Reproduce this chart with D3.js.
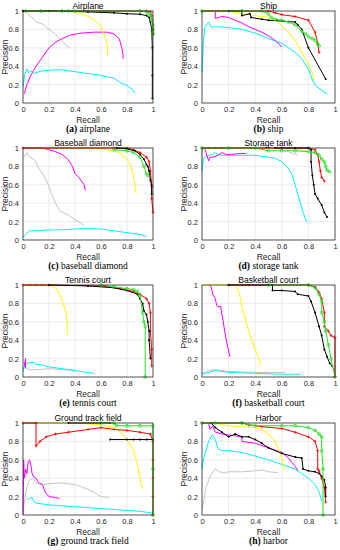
<!DOCTYPE html>
<html>
<head>
<meta charset="utf-8">
<script src="https://cdn.jsdelivr.net/npm/d3@7"></script>
<style>
  body { margin: 0; background: #fff; }
  svg { display: block; }
</style>
</head>
<body>
<svg id="chart"></svg>
<script>
// panel titles and captions
var titles = ["Airplane", "Ship", "Baseball diamond", "Storage tank",
              "Tennis court", "Basketball court", "Ground track field", "Harbor"];
var letters = ["(a)", "(b)", "(c)", "(d)", "(e)", "(f)", "(g)", "(h)"];
var captions = ["airplane", "ship", "baseball diamond", "storage tank",
                "tennis court", "basketball court", "ground track field", "harbor"];
var tickValues = [0, 0.2, 0.4, 0.6, 0.8, 1];
var tickLabels = ["0", "0.2", "0.4", "0.6", "0.8", "1"];

// [recall, precision] pairs; null = gap in a line
var airplane = {
  gray: [[0.02,1],[0.05,0.95],[0.08,0.92],[0.1,0.88],[0.15,0.86],[0.18,0.82],[0.2,0.8],[0.25,0.75],[0.28,0.7],[0.3,0.68],[0.33,0.63],[0.36,0.6]],
  cyan: [[0,0.18],[0.01,0.28],[0.02,0.34],[0.03,0.37],[0.04,0.33],[0.06,0.35],[0.08,0.32],[0.1,0.33],[0.15,0.35],[0.2,0.355],[0.25,0.36],[0.3,0.36],[0.4,0.34],[0.5,0.32],[0.6,0.3],[0.7,0.27],[0.75,0.22],[0.8,0.19],[0.84,0.15],[0.86,0.11]],
  magenta: [[0.01,0.1],[0.03,0.2],[0.06,0.3],[0.1,0.4],[0.15,0.5],[0.2,0.6],[0.25,0.66],[0.3,0.7],[0.37,0.74],[0.45,0.76],[0.55,0.77],[0.65,0.77],[0.7,0.75],[0.74,0.7],[0.76,0.6],[0.77,0.52],[0.77,0.48]],
  yellow: [[0,1],[0.35,1],[0.45,0.97],[0.52,0.93],[0.57,0.88],[0.6,0.83],[0.62,0.76],[0.64,0.68],[0.65,0.6],[0.65,0.52]],
  black: [[0,1],[0.2,1],[0.3,1],[0.5,0.99],[0.7,0.98],[0.8,0.97],[0.9,0.965],[0.95,0.95],[0.97,0.93],[0.98,0.88],[0.99,0.8],[0.995,0.6],[0.995,0.3],[0.995,0.05]],
  red: [[0,1],[0.5,1],[0.95,1],[0.98,0.99],[0.99,0.95],[1,0.8],[1,0.75]],
  green: [[0.02,1],[0.14,1],[0.3,1],[0.35,1],[0.4,1],[0.9,1],[0.95,0.99],[0.97,0.97],[0.98,0.95],[0.99,0.9],[1,0.85],[1,0.8],[1,0.75]],
  orange: []
};
var ship = {
  gray: [],
  cyan: [[0,0.33],[0.01,0.65],[0.02,0.82],[0.04,0.86],[0.05,0.88],[0.07,0.82],[0.1,0.83],[0.2,0.82],[0.3,0.8],[0.4,0.76],[0.5,0.7],[0.6,0.65],[0.65,0.6],[0.7,0.55],[0.75,0.48],[0.8,0.37],[0.83,0.25],[0.86,0.18],[0.9,0.14],[0.94,0.1]],
  magenta: [[0,1],[0.1,1],[0.1,0.92],[0.15,0.94],[0.2,0.93],[0.25,0.9],[0.3,0.87],[0.35,0.83],[0.4,0.8],[0.45,0.77],[0.5,0.73],[0.55,0.68],[0.6,0.61]],
  yellow: [[0,1],[0.2,1],[0.3,0.97],[0.4,0.95],[0.5,0.93],[0.55,0.9],[0.6,0.84],[0.65,0.77],[0.7,0.68],[0.75,0.55],[0.8,0.42],[0.83,0.32],[0.84,0.24]],
  black: [[0.2,1],[0.3,1],[0.3,0.95],[0.36,0.97],[0.37,0.93],[0.45,0.91],[0.5,0.9],[0.6,0.89],[0.7,0.88],[0.72,0.85],[0.75,0.8],[0.8,0.6],[0.93,0.26]],
  red: [[0,1],[0.3,1],[0.5,1],[0.55,0.98],[0.6,0.96],[0.7,0.94],[0.8,0.9],[0.85,0.77],[0.87,0.65],[0.88,0.55]],
  green: [[0,1],[0.3,1],[0.45,1],[0.5,0.97],[0.52,0.93],[0.55,0.91],[0.6,0.9],[0.65,0.88],[0.7,0.85],[0.75,0.78],[0.78,0.75],[0.8,0.72],[0.83,0.7],[0.85,0.68],[0.87,0.64],[0.88,0.62]],
  orange: [[0.12,1],[0.16,1],[0.2,1]]
};
var baseball = {
  gray: [[0.01,0.9],[0.03,0.95],[0.05,0.9],[0.08,0.88],[0.1,0.85],[0.12,0.78],[0.15,0.72],[0.18,0.65],[0.2,0.58],[0.22,0.5],[0.25,0.4],[0.28,0.32],[0.35,0.27],[0.4,0.22],[0.47,0.16]],
  cyan: [[0,0.03],[0.02,0.06],[0.05,0.1],[0.1,0.1],[0.2,0.11],[0.3,0.11],[0.4,0.12],[0.5,0.125],[0.6,0.12],[0.7,0.1],[0.8,0.08],[0.9,0.06],[0.95,0.04]],
  magenta: [[0,1],[0.15,1],[0.2,0.98],[0.25,0.96],[0.3,0.93],[0.35,0.87],[0.38,0.8],[0.4,0.72],[0.43,0.68],[0.45,0.64],[0.47,0.6],[0.48,0.54]],
  yellow: [[0,1],[0.3,1],[0.6,0.99],[0.7,0.97],[0.75,0.94],[0.8,0.88],[0.83,0.8],[0.85,0.7],[0.86,0.6],[0.87,0.51]],
  black: [[0.72,1],[0.8,0.99],[0.86,0.97],[0.9,0.93],[0.93,0.88],[0.95,0.82],[0.96,0.8],[0.97,0.75],[0.98,0.65],[0.99,0.58],[0.99,0.5]],
  red: [[0,1],[0.7,1],[0.8,1],[0.85,0.98],[0.9,0.95],[0.95,0.9],[0.97,0.85],[0.98,0.75],[0.99,0.6],[0.99,0.45],[1,0.3]],
  green: [[0.7,0.98],[0.8,0.97],[0.85,0.95],[0.9,0.9],[0.93,0.8],[0.95,0.72],[0.96,0.7]],
  orange: []
};
var storage = {
  gray: [[0,0.75],[0,1],[0.55,1],[0.65,0.96],[0.72,0.92]],
  cyan: [[0,0.75],[0.01,0.88],[0.02,0.9],[0.05,0.92],[0.08,0.93],[0.1,0.95],[0.12,0.93],[0.15,0.92],[0.2,0.92],[0.3,0.92],[0.4,0.92],[0.45,0.91],[0.5,0.9],[0.55,0.89],[0.6,0.85],[0.65,0.78],[0.68,0.7],[0.7,0.6],[0.72,0.5],[0.74,0.4],[0.76,0.3],[0.78,0.22],[0.79,0.19]],
  magenta: [[0.02,1],[0.03,0.95],[0.05,0.86],[0.06,0.9],[0.08,0.9],[0.12,0.92],[0.15,0.95],[0.18,0.93],[0.22,0.93],[0.28,0.94],[0.33,0.94]],
  yellow: [[0,1],[0.6,1],[0.7,0.99],[0.78,0.97]],
  black: [[0.55,1],[0.7,1],[0.8,1],[0.82,0.98],[0.82,0.85],[0.83,0.7],[0.84,0.6],[0.85,0.5],[0.87,0.45],[0.9,0.38],[0.92,0.3],[0.94,0.25]],
  red: [[0,1],[0.6,1],[0.8,1],[0.85,0.98],[0.87,0.93],[0.88,0.85],[0.89,0.75],[0.9,0.68],[0.92,0.64]],
  green: [[0,1],[0.2,1],[0.4,1],[0.5,0.97],[0.6,0.97],[0.7,0.97],[0.8,0.96],[0.85,0.95],[0.88,0.92],[0.9,0.88],[0.92,0.85],[0.93,0.8],[0.94,0.76],[0.96,0.74]],
  orange: [[0.05,1],[0.1,1],[0.15,1]]
};
var tennis = {
  gray: [[0.01,0.1],[0.05,0.08],[0.1,0.08],[0.2,0.09],[0.3,0.08],[0.4,0.07]],
  cyan: [[0,0.06],[0.01,0.12],[0.03,0.15],[0.08,0.16],[0.1,0.14],[0.15,0.13],[0.2,0.11],[0.3,0.09],[0.4,0.07],[0.5,0.05],[0.55,0.04]],
  magenta: [[0.01,0.12],[0.02,0.2],[0.02,0.1],[0.01,0.15]],
  yellow: [[0,1],[0.2,1],[0.25,0.97],[0.28,0.9],[0.31,0.8],[0.33,0.7],[0.34,0.6],[0.34,0.46]],
  black: [[0.2,1],[0.5,0.99],[0.7,0.97],[0.8,0.94],[0.88,0.9],[0.9,0.85],[0.92,0.8],[0.93,0.72],[0.95,0.68],[0.96,0.6],[0.97,0.5],[0.97,0.4],[0.98,0.2]],
  red: [[0,1],[0.2,1],[0.6,0.99],[0.75,0.96],[0.85,0.93],[0.9,0.9],[0.95,0.85],[0.97,0.8],[0.98,0.7],[0.98,0.5],[0.99,0.3],[0.99,0.12]],
  green: [[0.6,1],[0.7,0.98],[0.8,0.96],[0.85,0.95],[0.88,0.93],[0.9,0.88],[0.92,0.7],[0.93,0.6],[0.94,0.55],[0.94,0]],
  orange: [[0.05,1],[0.1,1],[0.15,1]]
};
var basketball = {
  gray: [[0,0.04],[0.05,0.07],[0.1,0.08],[0.2,0.06],[0.4,0.05],[0.63,0.05]],
  cyan: [[0,0.03],[0.05,0.05],[0.1,0.07],[0.15,0.06],[0.2,0.05],[0.4,0.04],[0.6,0.03],[0.74,0.03]],
  magenta: [[0.05,1],[0.07,0.98],[0.08,0.9],[0.1,0.85],[0.11,0.78],[0.12,0.76],[0.14,0.77],[0.15,0.68],[0.16,0.6],[0.17,0.5],[0.18,0.42],[0.19,0.35],[0.2,0.28],[0.21,0.22]],
  yellow: [[0,1],[0.25,1],[0.27,0.95],[0.29,0.85],[0.3,0.75],[0.32,0.68],[0.33,0.6],[0.35,0.5],[0.36,0.45],[0.38,0.38],[0.4,0.3],[0.42,0.23],[0.44,0.13]],
  black: [[0.2,1],[0.5,1],[0.53,1],[0.53,0.94],[0.6,0.94],[0.7,0.93],[0.72,0.9],[0.8,0.88],[0.82,0.82],[0.85,0.7],[0.88,0.55],[0.9,0.45],[0.92,0.3],[0.94,0.22],[0.96,0.15],[0.98,0.12]],
  red: [[0.2,1],[0.8,1],[0.85,0.98],[0.88,0.92],[0.9,0.85],[0.92,0.7],[0.92,0.55],[0.95,0.5],[0.97,0.45],[1,0.43],[1,0]],
  green: [[0.5,1],[0.8,1],[0.85,0.97],[0.88,0.9],[0.9,0.82],[0.9,0.7],[0.92,0.6],[0.93,0.5],[0.95,0.35],[0.97,0.2],[1,0]],
  orange: [[0.3,1],[0.35,1]]
};
var groundTrack = {
  gray: [[0,0.05],[0.03,0.3],[0.05,0.38],[0.08,0.4],[0.1,0.35],[0.15,0.33],[0.2,0.34],[0.3,0.35],[0.4,0.33],[0.5,0.28],[0.55,0.24],[0.6,0.2],[0.66,0.19]],
  cyan: [[0.03,0.17],[0.05,0.18],[0.07,0.19],[0.08,0.15],[0.1,0.13],[0.15,0.12],[0.2,0.11],[0.3,0.1],[0.5,0.08],[0.7,0.06],[0.9,0.04],[1,0.02]],
  magenta: [[0,0],[0.005,0.6],[0.01,0.4],[0.02,0.5],[0.03,0.45],[0.04,0.58],[0.05,0.6],[0.06,0.55],[0.07,0.45],[0.08,0.42],[0.1,0.4],[0.12,0.35],[0.15,0.33],[0.17,0.25],[0.2,0.2],[0.25,0.19],[0.28,0.18]],
  yellow: [[0,1],[0.4,1],[0.6,0.98],[0.7,0.95],[0.75,0.9],[0.8,0.82],[0.85,0.7],[0.88,0.55],[0.9,0.4],[0.92,0.28]],
  black: [[0.35,1],[0.6,1],[0.67,1],null,[0.67,0.82],[0.8,0.82],[0.85,0.82],[0.9,0.82],[0.95,0.82],[1,0.82]],
  red: [[0,1],[0.1,1],[0.1,0.75],[0.13,0.8],[0.18,0.85],[0.25,0.88],[0.35,0.9],[0.5,0.93],[0.6,0.95],[0.7,0.93],[0.8,0.92],[0.9,0.9],[0.98,0.88],[1,0.8],[1,0.6],[1,0.4],[1,0.2],[1,0]],
  green: [[0.6,1],[0.7,1],[0.72,0.97],[0.8,0.97],[0.9,0.97],[1,0.97],[1,0.5],[1,0]],
  orange: []
};
var harbor = {
  gray: [[0,0.05],[0.03,0.3],[0.06,0.42],[0.1,0.5],[0.13,0.47],[0.17,0.46],[0.2,0.47],[0.3,0.47],[0.4,0.48],[0.45,0.49],[0.5,0.47],[0.57,0.46]],
  cyan: [[0,0.5],[0.01,0.6],[0.03,0.7],[0.05,0.8],[0.07,0.85],[0.08,0.87],[0.1,0.82],[0.12,0.72],[0.15,0.7],[0.2,0.7],[0.3,0.68],[0.4,0.64],[0.5,0.6],[0.6,0.55],[0.7,0.5],[0.75,0.45],[0.8,0.4],[0.85,0.33],[0.88,0.25],[0.9,0.15]],
  magenta: [[0.05,1],[0.06,0.93],[0.08,0.97],[0.1,0.9],[0.15,0.88],[0.2,0.87],[0.3,0.85],[0.3,0.8],[0.4,0.78],[0.5,0.73],[0.6,0.68],[0.65,0.62],[0.7,0.53],[0.72,0.48]],
  yellow: [[0,1],[0.1,1],[0.2,0.97],[0.3,0.96],[0.4,0.95],[0.45,0.93],[0.5,0.88],[0.55,0.8],[0.58,0.7],[0.6,0.6],[0.62,0.48]],
  black: [[0.07,1],[0.1,0.95],[0.15,0.9],[0.2,0.85],[0.25,0.88],[0.3,0.85],[0.35,0.85],[0.4,0.82],[0.45,0.78],[0.5,0.73],[0.6,0.67],[0.7,0.63],[0.75,0.62],[0.76,0.5],[0.8,0.48],[0.85,0.47],[0.88,0.45],[0.9,0.42],[0.92,0.38],[0.93,0.3],[0.93,0.2]],
  red: [[0,1],[0.3,1],[0.35,0.98],[0.45,0.96],[0.6,0.94],[0.7,0.9],[0.8,0.85],[0.85,0.8],[0.87,0.7],[0.87,0.5],[0.88,0.48],[0.9,0.4],[0.92,0.3],[0.93,0.14]],
  green: [[0,1],[0.1,1],[0.3,1],[0.4,0.97],[0.6,0.97],[0.7,0.97],[0.8,0.95],[0.85,0.92],[0.88,0.88],[0.9,0.85],[0.9,0.7],[0.91,0.5],[0.91,0]],
  orange: []
};

var panels = [airplane, ship, baseball, storage, tennis, basketball, groundTrack, harbor];

// drawing order, colour and marker of each method
var seriesStyle = [
  { key: "gray",    color: "#cbc5bb", marker: null },
  { key: "cyan",    color: "#00f0ff", marker: null },
  { key: "magenta", color: "#ff00ff", marker: null },
  { key: "yellow",  color: "#ffff00", marker: null },
  { key: "orange",  color: "#ffa040", marker: "plus" },
  { key: "red",     color: "#ff0000", marker: "plus" },
  { key: "black",   color: "#000000", marker: "dot" },
  { key: "green",   color: "#22e022", marker: "circle" }
];

var sans = "Liberation Sans, Arial, sans-serif";

var svg = d3.select("#chart").attr("width", 340).attr("height", 550);

var colX = [23, 202], colW = [130, 133];
var rowY = [11, 148, 285, 423], plotH = 92;

panels.forEach(function(data, i) {
  var col = i % 2, row = Math.floor(i / 2);
  var w = colW[col];
  var g = svg.append("g")
    .attr("transform", "translate(" + colX[col] + "," + rowY[row] + ")");

  var x = d3.scaleLinear().domain([0, 1]).range([0, w]);
  var y = d3.scaleLinear().domain([0, 1]).range([plotH, 0]);

  // grid
  g.append("g").selectAll("line").data(tickValues.slice(1, -1)).join("line")
    .attr("x1", function(d) { return x(d); }).attr("x2", function(d) { return x(d); })
    .attr("y1", 0).attr("y2", plotH)
    .attr("stroke", "#e3e3e3").attr("stroke-width", 0.7);
  g.append("g").selectAll("line").data(tickValues.slice(1, -1)).join("line")
    .attr("y1", function(d) { return y(d); }).attr("y2", function(d) { return y(d); })
    .attr("x1", 0).attr("x2", w)
    .attr("stroke", "#e3e3e3").attr("stroke-width", 0.7);

  // axes
  var xAxis = g.append("g")
    .attr("transform", "translate(0," + plotH + ")")
    .call(d3.axisBottom(x).tickValues(tickValues).tickSize(0).tickPadding(3.5)
      .tickFormat(function(d, k) { return tickLabels[k]; }));
  var yAxis = g.append("g")
    .call(d3.axisLeft(y).tickValues(tickValues).tickSize(0).tickPadding(4)
      .tickFormat(function(d, k) { return tickLabels[k]; }));
  [xAxis, yAxis].forEach(function(a) {
    a.select(".domain").remove();
    a.selectAll("text").attr("font-family", sans)
      .attr("font-size", 7.5).attr("fill", "#262626");
  });

  var line = d3.line()
    .defined(function(d) { return d !== null; })
    .x(function(d) { return x(d[0]); })
    .y(function(d) { return y(d[1]); });

  var clip = "clip" + i;
  g.append("clipPath").attr("id", clip).append("rect")
    .attr("x", -2).attr("y", -2).attr("width", w + 4).attr("height", plotH + 4);
  var plot = g.append("g").attr("clip-path", "url(#" + clip + ")");

  seriesStyle.forEach(function(s) {
    var pts = data[s.key];
    if (!pts || !pts.length) return;
    plot.append("path")
      .datum(pts)
      .attr("fill", "none")
      .attr("stroke", s.color)
      .attr("stroke-width", 1)
      .attr("stroke-dasharray", s.key == "orange" ? "3,2" : null)
      .attr("stroke-linejoin", "round")
      .attr("d", line);

    var real = pts.filter(function(d) { return d !== null; });
    if (s.marker == "dot") {
      plot.append("g").selectAll("circle").data(real).join("circle")
        .attr("cx", function(d) { return x(d[0]); })
        .attr("cy", function(d) { return y(d[1]); })
        .attr("r", 1).attr("fill", s.color);
    } else if (s.marker == "circle") {
      plot.append("g").selectAll("circle").data(real).join("circle")
        .attr("cx", function(d) { return x(d[0]); })
        .attr("cy", function(d) { return y(d[1]); })
        .attr("r", 1.4).attr("fill", "none")
        .attr("stroke", s.color).attr("stroke-width", 0.8);
    } else if (s.marker == "plus") {
      plot.append("g").selectAll("path").data(real).join("path")
        .attr("d", function(d) {
          var cx = x(d[0]), cy = y(d[1]);
          return "M" + (cx - 1.5) + "," + cy + "H" + (cx + 1.5) +
                 "M" + cx + "," + (cy - 1.5) + "V" + (cy + 1.5);
        })
        .attr("stroke", s.color).attr("stroke-width", 0.7);
    }
  });

  // box
  g.append("rect")
    .attr("width", w).attr("height", plotH)
    .attr("fill", "none").attr("stroke", "#262626").attr("stroke-width", 0.8);

  // title
  g.append("text")
    .attr("x", w / 2).attr("y", -2.5)
    .attr("text-anchor", "middle")
    .attr("font-family", sans)
    .attr("font-size", 8.5).attr("fill", "#000")
    .text(titles[i]);

  // axis labels
  g.append("text")
    .attr("x", w / 2).attr("y", plotH + 19.5)
    .attr("text-anchor", "middle")
    .attr("font-family", sans)
    .attr("font-size", 8.5).attr("fill", "#262626")
    .text("Recall");
  g.append("text")
    .attr("transform", "translate(-15," + (plotH / 2) + ") rotate(-90)")
    .attr("text-anchor", "middle")
    .attr("font-family", sans)
    .attr("font-size", 8.5).attr("fill", "#262626")
    .text("Precision");

  // caption under the panel
  var cap = g.append("text")
    .attr("x", w / 2).attr("y", plotH + 28.5)
    .attr("text-anchor", "middle")
    .attr("font-family", "Liberation Serif, Times New Roman, serif")
    .attr("font-size", 9.5).attr("fill", "#000");
  cap.append("tspan").attr("font-weight", "bold").text(letters[i]);
  cap.append("tspan").text(" " + captions[i]);
});
</script>
</body>
</html>
